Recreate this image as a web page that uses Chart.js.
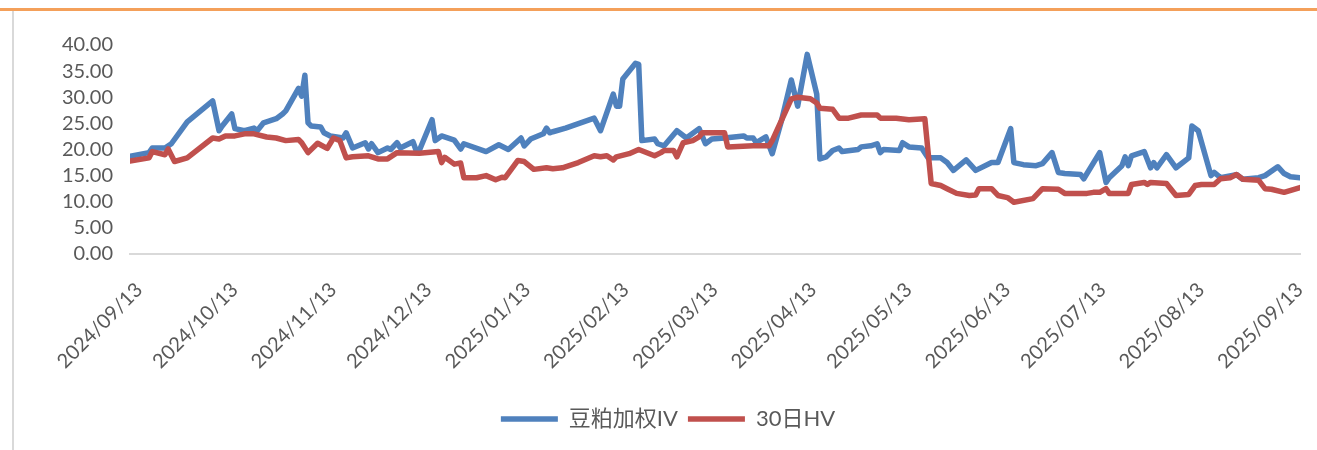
<!DOCTYPE html>
<html>
<head>
<meta charset="utf-8">
<script src="https://cdn.jsdelivr.net/npm/chart.js@4.4.1/dist/chart.umd.min.js"></script>
<style>
  body { margin: 0; background: #fff; }
  #wrap { position: relative; width: 1317px; height: 450px; }
  #topline { position: absolute; left: 0; top: 8px; width: 1317px; height: 3px; background: #f4a05a; }
  #leftline { position: absolute; left: 12px; top: 11px; width: 2px; height: 439px; background: #d9d9d9; }
  canvas { position: absolute; left: 0; top: 0; }
</style>
</head>
<body>
<div id="wrap">
  <div id="topline"></div>
  <div id="leftline"></div>
  <canvas id="myChart" width="1317" height="450"></canvas>
</div>
<script>
// month ticks on the x axis
var tickLabels = ["2024/09/13", "2024/10/13", "2024/11/13", "2024/12/13", "2025/01/13", "2025/02/13",
  "2025/03/13", "2025/04/13", "2025/05/13", "2025/06/13", "2025/07/13", "2025/08/13", "2025/09/13"];

// 豆粕加权IV
var ivDates = ["2024/09/12", "2024/09/18", "2024/09/19", "2024/09/23", "2024/09/25", "2024/09/30",
  "2024/10/08", "2024/10/10", "2024/10/11", "2024/10/14", "2024/10/15", "2024/10/18", "2024/10/21",
  "2024/10/22", "2024/10/24", "2024/10/28", "2024/10/30", "2024/10/31", "2024/11/04", "2024/11/05",
  "2024/11/06", "2024/11/07", "2024/11/08", "2024/11/11", "2024/11/12", "2024/11/14", "2024/11/18",
  "2024/11/19", "2024/11/21", "2024/11/25", "2024/11/26", "2024/11/27", "2024/11/29", "2024/12/02",
  "2024/12/03", "2024/12/05", "2024/12/06", "2024/12/10", "2024/12/11", "2024/12/12", "2024/12/16",
  "2024/12/17", "2024/12/19", "2024/12/23", "2024/12/25", "2024/12/26", "2025/01/02", "2025/01/06",
  "2025/01/09", "2025/01/13", "2025/01/14", "2025/01/16", "2025/01/20", "2025/01/21", "2025/01/22",
  "2025/01/23", "2025/01/27", "2025/02/05", "2025/02/07", "2025/02/11", "2025/02/12", "2025/02/13",
  "2025/02/14", "2025/02/18", "2025/02/19", "2025/02/20", "2025/02/24", "2025/02/25", "2025/02/27",
  "2025/03/03", "2025/03/06", "2025/03/10", "2025/03/12", "2025/03/14", "2025/03/18", "2025/03/24",
  "2025/03/25", "2025/03/27", "2025/03/28", "2025/03/31", "2025/04/02", "2025/04/05", "2025/04/08",
  "2025/04/10", "2025/04/13", "2025/04/16", "2025/04/17", "2025/04/19", "2025/04/21", "2025/04/23",
  "2025/04/24", "2025/04/29", "2025/04/30", "2025/05/03", "2025/05/05", "2025/05/06", "2025/05/07",
  "2025/05/12", "2025/05/13", "2025/05/15", "2025/05/19", "2025/05/21", "2025/05/25", "2025/05/27",
  "2025/05/29", "2025/06/02", "2025/06/05", "2025/06/10", "2025/06/12", "2025/06/16", "2025/06/17",
  "2025/06/20", "2025/06/24", "2025/06/26", "2025/06/29", "2025/07/01", "2025/07/03", "2025/07/08",
  "2025/07/09", "2025/07/14", "2025/07/16", "2025/07/17", "2025/07/21", "2025/07/22", "2025/07/23",
  "2025/07/24", "2025/07/28", "2025/07/30", "2025/07/31", "2025/08/01", "2025/08/04", "2025/08/07",
  "2025/08/11", "2025/08/12", "2025/08/14", "2025/08/18", "2025/08/19", "2025/08/21", "2025/08/26",
  "2025/08/28", "2025/09/02", "2025/09/04", "2025/09/08", "2025/09/10", "2025/09/12", "2025/09/15"];
var ivValues = [18.7, 19.4, 20.3, 20.3, 21.1, 25.3,
  29.3, 23.6, 24.5, 26.8, 24.0, 23.6, 24.1,
  23.6, 25.1, 25.9, 26.8, 27.4, 31.7, 30.2,
  34.2, 25.1, 24.5, 24.3, 23.2, 22.6, 22.2,
  23.2, 20.3, 21.3, 20.1, 21.1, 19.4, 20.3,
  20.0, 21.3, 20.3, 21.5, 19.8, 19.8, 25.7,
  21.7, 22.6, 21.8, 20.1, 21.1, 19.6, 20.9,
  20.0, 22.2, 20.7, 22.0, 23.0, 24.1, 23.2,
  23.4, 24.1, 26.0, 23.6, 30.6, 28.3, 28.3,
  33.5, 36.5, 36.3, 21.7, 22.0, 21.1, 20.7,
  23.6, 22.2, 24.0, 21.1, 22.0, 22.2, 22.6,
  22.2, 22.2, 21.3, 22.4, 19.2, 25.7, 33.3,
  28.3, 38.2, 30.6, 18.2, 18.6, 19.8, 20.3,
  19.6, 20.0, 20.5, 20.7, 21.1, 19.4, 20.0,
  19.8, 21.3, 20.5, 20.3, 18.4, 18.4, 17.5,
  16.0, 18.0, 16.0, 17.5, 17.5, 24.0, 17.5,
  17.1, 16.9, 17.3, 19.4, 15.6, 15.4, 15.2,
  14.4, 19.4, 13.7, 14.6, 16.9, 18.6, 16.9,
  18.8, 19.6, 16.5, 17.5, 16.5, 19.0, 16.5,
  18.4, 24.5, 23.6, 15.0, 15.6, 14.6, 15.2,
  14.3, 14.6, 15.0, 16.7, 15.4, 14.8, 14.6];

// 30日HV
var hvDates = ["2024/09/12", "2024/09/18", "2024/09/19", "2024/09/23", "2024/09/24", "2024/09/26",
  "2024/09/30", "2024/10/08", "2024/10/10", "2024/10/12", "2024/10/15", "2024/10/18", "2024/10/21",
  "2024/10/25", "2024/10/28", "2024/10/31", "2024/11/04", "2024/11/05", "2024/11/07", "2024/11/10",
  "2024/11/13", "2024/11/15", "2024/11/17", "2024/11/19", "2024/11/21", "2024/11/26", "2024/11/29",
  "2024/12/02", "2024/12/05", "2024/12/12", "2024/12/18", "2024/12/19", "2024/12/20", "2024/12/23",
  "2024/12/25", "2024/12/26", "2024/12/30", "2025/01/02", "2025/01/05", "2025/01/07", "2025/01/08",
  "2025/01/12", "2025/01/14", "2025/01/17", "2025/01/21", "2025/01/23", "2025/01/26", "2025/01/31",
  "2025/02/05", "2025/02/07", "2025/02/09", "2025/02/11", "2025/02/12", "2025/02/16", "2025/02/19",
  "2025/02/24", "2025/02/26", "2025/02/27", "2025/03/02", "2025/03/03", "2025/03/05", "2025/03/08",
  "2025/03/10", "2025/03/11", "2025/03/18", "2025/03/19", "2025/03/27", "2025/04/01", "2025/04/02",
  "2025/04/08", "2025/04/10", "2025/04/14", "2025/04/16", "2025/04/17", "2025/04/21", "2025/04/23",
  "2025/04/26", "2025/04/30", "2025/05/05", "2025/05/06", "2025/05/11", "2025/05/15", "2025/05/20",
  "2025/05/22", "2025/05/25", "2025/05/27", "2025/05/30", "2025/06/03", "2025/06/05", "2025/06/06",
  "2025/06/10", "2025/06/12", "2025/06/15", "2025/06/17", "2025/06/23", "2025/06/26", "2025/07/01",
  "2025/07/03", "2025/07/10", "2025/07/12", "2025/07/14", "2025/07/16", "2025/07/17", "2025/07/23",
  "2025/07/24", "2025/07/28", "2025/07/29", "2025/07/30", "2025/08/04", "2025/08/07", "2025/08/11",
  "2025/08/13", "2025/08/15", "2025/08/19", "2025/08/21", "2025/08/24", "2025/08/26", "2025/08/28",
  "2025/09/02", "2025/09/04", "2025/09/06", "2025/09/10", "2025/09/15"];
var hvValues = [17.8, 18.4, 19.6, 19.0, 20.1, 17.7,
  18.4, 22.2, 22.0, 22.6, 22.6, 23.0, 23.0,
  22.4, 22.2, 21.7, 21.9, 21.3, 19.4, 21.2,
  20.2, 22.2, 21.7, 18.4, 18.6, 18.8, 18.2,
  18.2, 19.4, 19.3, 19.6, 17.5, 18.5, 17.2,
  17.4, 14.6, 14.6, 15.0, 14.2, 14.7, 14.6,
  17.9, 17.7, 16.2, 16.5, 16.3, 16.5, 17.5,
  18.8, 18.6, 18.8, 18.0, 18.6, 19.2, 20.0,
  18.8, 19.4, 19.8, 19.8, 18.6, 21.3, 21.7,
  22.4, 23.2, 23.2, 20.5, 20.7, 20.7, 21.7,
  29.7, 30.0, 29.7, 28.9, 27.9, 27.7, 26.0,
  26.0, 26.6, 26.6, 26.0, 26.0, 25.7, 25.9,
  13.5, 13.1, 12.5, 11.6, 11.2, 11.3, 12.5,
  12.5, 11.2, 10.8, 9.9, 10.6, 12.5, 12.4,
  11.6, 11.6, 11.8, 11.8, 12.5, 11.6, 11.6,
  13.3, 13.7, 13.3, 13.7, 13.5, 11.2, 11.4,
  13.1, 13.3, 13.3, 14.4, 14.6, 15.2, 14.3,
  14.1, 12.5, 12.4, 11.8, 12.7];

// days counted from 2024/09/13
function dayNum(s) {
  var p = s.split("/").map(Number);
  return Math.round((Date.UTC(p[0], p[1] - 1, p[2]) - Date.UTC(2024, 8, 13)) / 86400000);
}
function toPoints(dates, values) {
  return dates.map(function (d, i) { return { x: dayNum(d), y: values[i] }; });
}

var font = "Lato, 'Noto Sans CJK SC', sans-serif";
var textColor = "#595959";

var ctx = document.getElementById("myChart").getContext("2d");
var chart = new Chart(ctx, {
  type: "line",
  data: {
    datasets: [
      {
        label: "豆粕加权IV",
        data: toPoints(ivDates, ivValues),
        borderColor: "#4f81bd",
        backgroundColor: "#4f81bd",
        borderWidth: 5.5,
        borderCapStyle: "round",
        borderJoinStyle: "round",
        pointRadius: 0,
        tension: 0,
        order: 2,
      },
      {
        label: "30日HV",
        data: toPoints(hvDates, hvValues),
        borderColor: "#c0504d",
        backgroundColor: "#c0504d",
        borderWidth: 5.5,
        borderCapStyle: "round",
        borderJoinStyle: "round",
        pointRadius: 0,
        tension: 0,
        order: 1,
      },
    ],
  },
  options: {
    responsive: false,
    animation: false,
    layout: { padding: { left: 36, right: 17, top: 45, bottom: 10 } },
    plugins: {
      tooltip: { enabled: false },
      legend: {
        position: "bottom",
        labels: {
          usePointStyle: true,
          pointStyle: "line",
          pointStyleWidth: 57,
          padding: 10,
          color: textColor,
          font: { family: font, size: 22 },
          sort: function (a, b) { return a.datasetIndex - b.datasetIndex; },
        },
      },
    },
    scales: {
      x: {
        type: "linear",
        min: -1,
        max: 367,
        grid: { display: false, drawTicks: false },
        border: { display: true, color: "#d9d9d9", width: 2 },
        afterBuildTicks: function (scale) {
          scale.ticks = tickLabels.map(function (s) { return { value: dayNum(s) }; });
        },
        afterFit: function (scale) {
          scale.height = 144;
          scale.paddingLeft = 0;
          scale.paddingRight = 0;
        },
        ticks: {
          autoSkip: false,
          minRotation: 45,
          maxRotation: 45,
          padding: 24,
          labelOffset: 6,
          color: textColor,
          font: { family: font, size: 20 },
          callback: function (v, i) { return tickLabels[i]; },
        },
      },
      y: {
        min: 0,
        max: 40,
        grid: { display: false, drawTicks: false },
        border: { display: false },
        afterFit: function (scale) { scale.width = 94; },
        ticks: {
          stepSize: 5,
          autoSkip: false,
          padding: 17,
          color: textColor,
          font: { family: font, size: 20 },
          callback: function (v) { return v.toFixed(2); },
        },
      },
    },
  },
});
</script>
</body>
</html>
